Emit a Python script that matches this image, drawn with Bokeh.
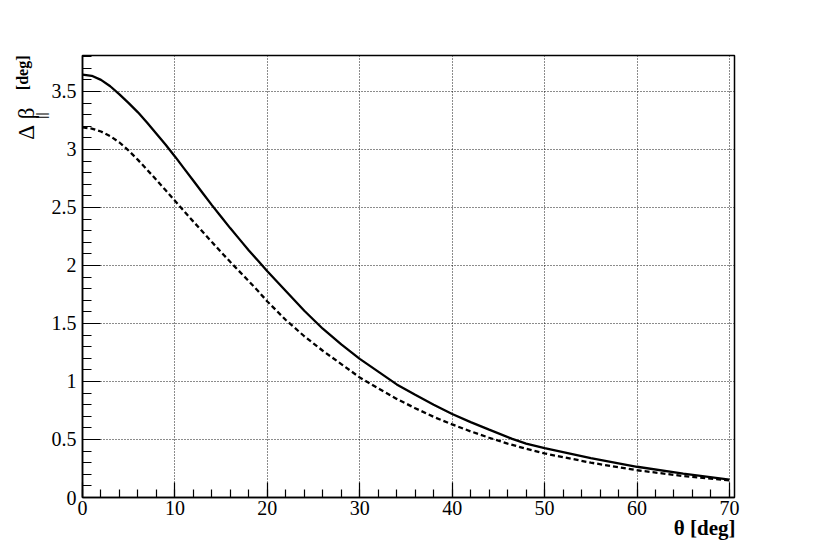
from bokeh.plotting import figure
from bokeh.models import SingleIntervalTicker, CustomJSTickFormatter, Range1d, Title
from bokeh.embed import file_html
from bokeh.resources import INLINE

# ---- data ----
theta_solid = [0, 1, 2, 3, 4, 5, 6, 7, 8, 9, 10, 11, 12, 13, 14, 15, 16, 17, 18, 19, 20,
               22, 24, 26, 28, 30, 32, 34, 36, 38, 40, 42, 44, 46.5, 48, 50, 55, 60, 65, 70]
dbeta_solid = [3.645, 3.635, 3.60, 3.545, 3.475, 3.40, 3.32, 3.23, 3.135, 3.04, 2.94, 2.835, 2.73, 2.625,
               2.52, 2.42, 2.32, 2.225, 2.13, 2.04, 1.95, 1.78, 1.61, 1.455, 1.32, 1.195, 1.085, 0.975,
               0.885, 0.80, 0.72, 0.65, 0.585, 0.505, 0.465, 0.425, 0.34, 0.265, 0.205, 0.155]

theta_dash = [0, 1, 2, 3, 4, 5, 6, 7, 8, 9, 10, 11, 12, 13, 14, 15, 16, 17, 18, 19, 20,
              22, 24, 26, 28, 30, 32, 34, 36, 38, 40, 42, 44, 46, 48, 50, 55, 60, 65, 70]
dbeta_dash = [3.19, 3.18, 3.155, 3.115, 3.06, 2.99, 2.91, 2.825, 2.737, 2.648, 2.558, 2.468, 2.378, 2.29,
              2.202, 2.115, 2.03, 1.947, 1.864, 1.78, 1.69, 1.53, 1.39, 1.265, 1.15, 1.035, 0.94, 0.85,
              0.77, 0.695, 0.63, 0.57, 0.515, 0.465, 0.42, 0.38, 0.30, 0.235, 0.185, 0.147]

x_title = "θ [deg]"
y_title_main = "Δ\u00a0β"
y_title_sub = "||"
y_title_unit = "[deg]"

X_END = 70.55
Y_END = 3.81

p = figure(width=816, height=553, output_backend="svg", toolbar_location=None,
           x_range=Range1d(0, X_END), y_range=Range1d(0, Y_END),
           min_border_left=82, min_border_right=82, min_border_top=55, min_border_bottom=56)
p.background_fill_color = "white"
p.border_fill_color = "white"
p.outline_line_color = "black"
p.outline_line_width = 1.5

p.line(theta_solid, dbeta_solid, line_color="black", line_width=2.3)
p.line(theta_dash, dbeta_dash, line_color="black", line_width=2.3, line_dash="5 3")

fmt = CustomJSTickFormatter(code="return String(Math.round(tick*10)/10);")
for ax, interval, maj_len, min_len in ((p.xaxis[0], 10, 15, 8), (p.yaxis[0], 0.5, 18, 9)):
    ax.ticker = SingleIntervalTicker(interval=interval, num_minor_ticks=5)
    ax.formatter = fmt
    ax.major_tick_in = maj_len
    ax.major_tick_out = 0
    ax.minor_tick_in = min_len
    ax.minor_tick_out = 0
    ax.major_tick_line_color = "black"
    ax.minor_tick_line_color = "black"
    ax.major_tick_line_width = 1.2
    ax.minor_tick_line_width = 1.2
    ax.axis_line_color = "black"
    ax.axis_line_width = 1.5
    ax.major_label_text_font = "Liberation Serif"
    ax.major_label_text_font_size = "20px"
    ax.major_label_text_color = "black"
p.xaxis.major_label_standoff = 3
p.yaxis.major_label_standoff = 6

for g in (p.xgrid[0], p.ygrid[0]):
    g.grid_line_color = "black"
    g.grid_line_dash = "1 2"
    g.grid_line_width = 1
    g.grid_line_alpha = 0.9
p.xgrid.ticker = p.xaxis[0].ticker
p.ygrid.ticker = p.yaxis[0].ticker

# axis titles (ROOT style: at the end of each axis)
p.add_layout(Title(text=x_title, align="right", vertical_align="top", standoff=-4, offset=-1,
                   text_font="Liberation Serif", text_font_style="bold", text_font_size="21px",
                   text_color="black"), "below")
p.add_layout(Title(text=y_title_sub, align="right", vertical_align="bottom", standoff=0, offset=57,
                   text_font="Liberation Serif", text_font_style="bold", text_font_size="14px",
                   text_color="black"), "left")
p.add_layout(Title(text=y_title_main, align="right", vertical_align="bottom", standoff=-14, offset=52,
                   text_font="Liberation Serif", text_font_style="normal", text_font_size="23px",
                   text_color="black"), "left")
p.add_layout(Title(text=y_title_unit, align="right", vertical_align="bottom", standoff=-24, offset=0,
                   text_font="Liberation Serif", text_font_style="bold", text_font_size="16px",
                   text_color="black"), "left")

open("out.html", "w").write(file_html(p, INLINE))
